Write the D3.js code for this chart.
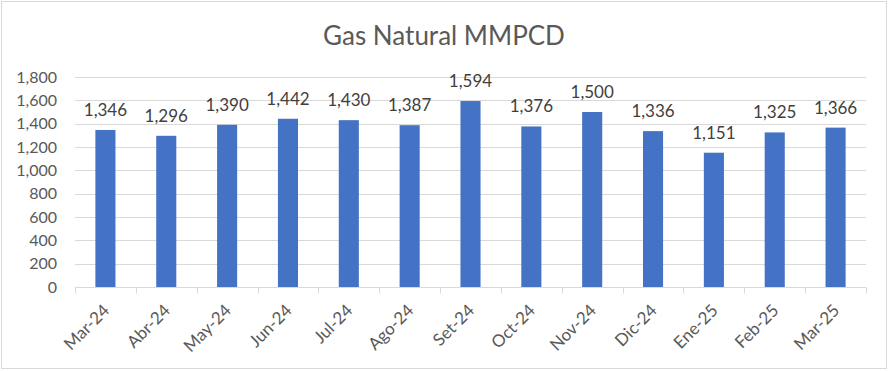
<!DOCTYPE html>
<html><head><meta charset="utf-8">
<script src="https://cdn.jsdelivr.net/npm/d3@7"></script>
<style>html,body{margin:0;padding:0;background:#fff}svg{display:block}</style>
</head><body>
<script>
const months = ["Mar-24","Abr-24","May-24","Jun-24","Jul-24","Ago-24","Set-24","Oct-24","Nov-24","Dic-24","Ene-25","Feb-25","Mar-25"];
const values = [1346,1296,1390,1442,1430,1387,1594,1376,1500,1336,1151,1325,1366];
const yTicks = [0,200,400,600,800,1000,1200,1400,1600,1800];
const title = "Gas Natural MMPCD";

const W = 889, H = 371;
const m = {left:75, right:23, top:77, bottom:84};
const font = "Lato, 'Open Sans', sans-serif";

const svg = d3.select("body").append("svg").attr("width", W).attr("height", H);
svg.append("rect").attr("x",1.5).attr("y",1.5).attr("width",W-4).attr("height",H-4)
  .attr("fill","#fff").attr("stroke","#d9d9d9").attr("stroke-width",1);

const x = d3.scaleBand().domain(months).range([m.left, W-m.right]).paddingInner(0.67).paddingOuter(0.335);
const y = d3.scaleLinear().domain([0,1800]).range([H-m.bottom, m.top]);

svg.append("text").attr("x", 444).attr("y", 45).attr("text-anchor","middle")
  .attr("font-family", font).attr("font-size", 26).attr("fill","#595959").text(title);

// grid
svg.append("g").selectAll("line").data(yTicks.filter(d=>d>0)).join("line")
  .attr("x1", m.left).attr("x2", W-m.right)
  .attr("y1", d=>Math.round(y(d))+0.5).attr("y2", d=>Math.round(y(d))+0.5)
  .attr("stroke","#d9d9d9").attr("stroke-width",1);

// y axis labels
const yAxis = d3.axisLeft(y).tickValues(yTicks).tickFormat(d3.format(",")).tickSize(0).tickPadding(18);
const gy = svg.append("g").attr("transform",`translate(${m.left},0)`).call(yAxis);
gy.select(".domain").remove();
gy.selectAll("text").attr("font-family",font).attr("font-size",16).attr("fill","#595959");

// bars
svg.append("g").selectAll("rect").data(values).join("rect")
  .attr("x",(d,i)=>x(months[i])).attr("width",x.bandwidth())
  .attr("y",d=>y(d)).attr("height",d=>y(0)-y(d)).attr("fill","#4472C4");

// labels
svg.append("g").selectAll("text").data(values).join("text")
  .attr("x",(d,i)=>x(months[i])+x.bandwidth()/2).attr("y",d=>y(d)-14)
  .attr("text-anchor","middle").attr("font-family",font).attr("font-size",17).attr("fill","#404040")
  .text(d=>d3.format(",")(d));

// x axis
const step = (W-m.left-m.right)/months.length;
const gx = svg.append("g").attr("transform",`translate(0,${Math.round(y(0))+0.5})`);
gx.append("line").attr("x1",m.left).attr("x2",W-m.right).attr("stroke","#d9d9d9");
gx.selectAll("line.t").data(d3.range(months.length+1)).join("line").attr("class","t")
  .attr("x1",i=>Math.round(m.left+i*step)+0.5).attr("x2",i=>Math.round(m.left+i*step)+0.5)
  .attr("y1",0).attr("y2",6).attr("stroke","#d9d9d9");
gx.selectAll("text").data(months).join("text")
  .attr("transform",d=>`translate(${x(d)+x.bandwidth()/2+5},${24}) rotate(-45)`)
  .attr("text-anchor","end")
  .attr("font-family",font).attr("font-size",17).attr("fill","#595959").text(d=>d);
</script>
</body></html>
